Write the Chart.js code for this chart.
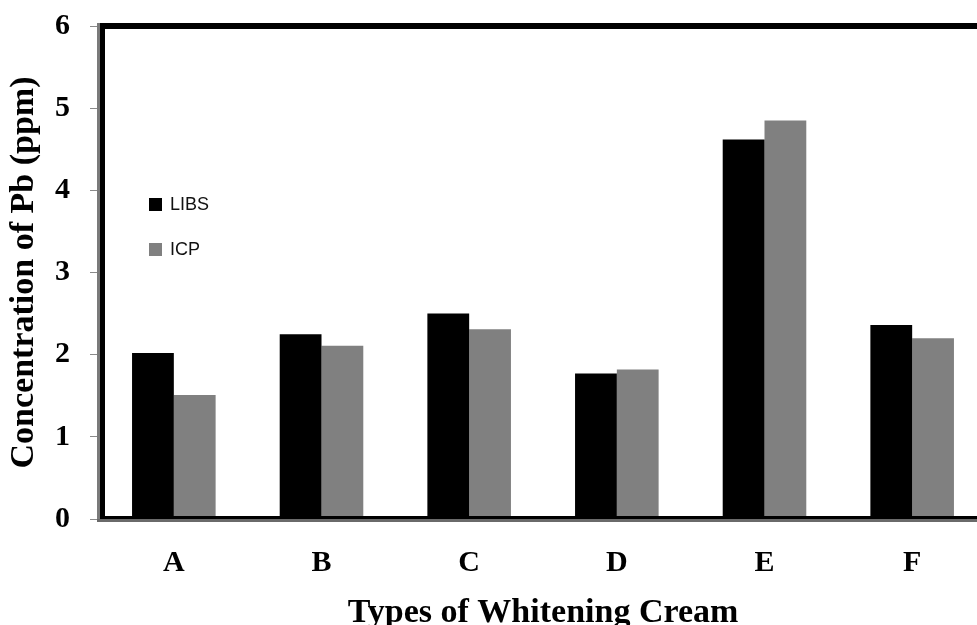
<!DOCTYPE html>
<html>
<head>
<meta charset="utf-8">
<script src="https://cdn.jsdelivr.net/npm/chart.js@4/dist/chart.umd.min.js"></script>
<style>
  html, body { margin: 0; padding: 0; background: #fff; overflow: hidden; width: 977px; height: 625px; }
  #wrap { position: absolute; left: 0; top: 0; width: 1000px; height: 625px; }
</style>
</head>
<body>
<div id="wrap"><canvas id="c" width="1000" height="625"></canvas></div>
<script>
const categories = ['A', 'B', 'C', 'D', 'E', 'F'];
const libsValues = [2.02, 2.25, 2.50, 1.77, 4.62, 2.36];
const icpValues = [1.51, 2.11, 2.31, 1.82, 4.85, 2.20];
const seriesNames = ['LIBS', 'ICP'];
const seriesColors = ['#000000', '#808080'];
const yMin = 0, yMax = 6, yStep = 1;
const xTitle = 'Types of Whitening Cream';
const yTitle = 'Concentration of Pb (ppm)';

const frameAndLegend = {
  id: 'frameAndLegend',
  afterDatasetsDraw(chart) {
    const ctx = chart.ctx;
    const a = chart.chartArea;
    ctx.save();
    ctx.fillStyle = '#7a7a7a';
    ctx.fillRect(a.left - 3, a.top - 3, 3, a.bottom - a.top + 6);
    ctx.fillStyle = '#000';
    ctx.fillRect(a.left, a.top - 3, 5, a.bottom - a.top + 3);
    ctx.fillStyle = '#000';
    ctx.fillRect(a.left, a.top - 3, a.right - a.left + 20, 6);
    ctx.fillStyle = '#000';
    ctx.fillRect(a.left, a.bottom - 3, a.right - a.left + 20, 3);
    ctx.fillStyle = '#6a6a6a';
    ctx.fillRect(a.left - 3, a.bottom, a.right - a.left + 23, 3);

    ctx.font = '18px "Liberation Sans", Arial, sans-serif';
    ctx.textBaseline = 'middle';
    ctx.textAlign = 'left';
    chart.data.datasets.forEach((ds, i) => {
      const y = a.top + 179 + i * 45;
      const x = a.left + 49;
      ctx.fillStyle = ds.backgroundColor;
      ctx.fillRect(x, y - 7, 13, 13);
      ctx.fillStyle = '#111';
      ctx.fillText(ds.label, x + 21, y);
    });
    ctx.restore();
  }
};

new Chart(document.getElementById('c'), {
  type: 'bar',
  data: {
    labels: categories,
    datasets: [
      { label: seriesNames[0], data: libsValues, backgroundColor: seriesColors[0], borderWidth: 0 },
      { label: seriesNames[1], data: icpValues, backgroundColor: seriesColors[1], borderWidth: 0 }
    ]
  },
  options: {
    responsive: false,
    animation: false,
    devicePixelRatio: 1,
    layout: { padding: { top: 26, right: 14, left: 0, bottom: 0 } },
    categoryPercentage: 0.566,
    barPercentage: 1,
    plugins: {
      legend: { display: false },
      tooltip: { enabled: false }
    },
    scales: {
      x: {
        grid: { display: false, drawTicks: false },
        border: { display: false },
        ticks: {
          padding: 26,
          color: '#000',
          font: { family: '"Liberation Serif", "Times New Roman", serif', size: 30, weight: 'bold' }
        },
        title: {
          display: true,
          text: xTitle,
          color: '#000',
          padding: 0,
          font: { family: '"Liberation Serif", "Times New Roman", serif', size: 34, weight: 'bold', lineHeight: 0.706 }
        },
        afterFit(scale) { scale.height = 106; }
      },
      y: {
        min: yMin,
        max: yMax,
        grid: { drawOnChartArea: false, drawTicks: true, tickLength: 10, color: '#8a8a8a', lineWidth: 1 },
        border: { display: false },
        ticks: {
          stepSize: yStep,
          padding: 20,
          color: '#000',
          font: { family: '"Liberation Serif", "Times New Roman", serif', size: 30, weight: 'bold', lineHeight: 0.2 }
        },
        title: {
          display: true,
          text: yTitle,
          color: '#000',
          padding: { top: 4, bottom: 0 },
          font: { family: '"Liberation Serif", "Times New Roman", serif', size: 34, weight: 'bold' }
        },
        afterFit(scale) { scale.width = 100; }
      }
    }
  },
  plugins: [frameAndLegend]
});
</script>
</body>
</html>
